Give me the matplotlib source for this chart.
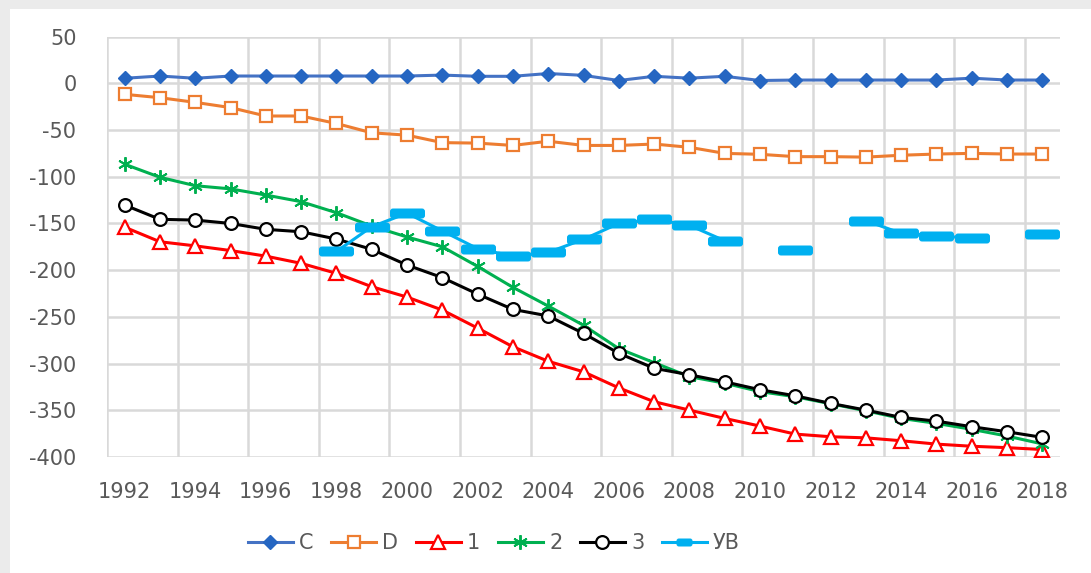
import numpy as np
import matplotlib
matplotlib.use("Agg")
import matplotlib.pyplot as plt
from matplotlib.path import Path
from matplotlib.lines import Line2D
from matplotlib.patches import Rectangle

plt.rcParams['font.family'] = ['DejaVu Sans']

years = list(range(1992, 2019))
nan = np.nan

series_c = [5.4, 7.8, 5.4, 7.8, 7.8, 7.8, 7.8, 7.8, 7.8, 8.8, 7.5, 7.5, 10.5, 8.5,
            3.0, 7.5, 5.5, 7.5, 3.0, 3.5, 3.5, 3.5, 3.5, 3.5, 5.5, 3.5, 3.5]
series_d = [-11.8, -15.4, -20.4, -26, -35, -35, -43, -53, -55.5, -63.5, -64, -66.5,
            -62, -66.5, -66.5, -65, -68.5, -75, -76, -78.5, -78.5, -79, -77, -75.7,
            -75, -75.7, -75.7]
series_1 = [-154, -169.6, -174, -179, -185, -192.7, -203.4, -217.7, -228.8, -242.7,
            -262, -282, -297.5, -308.8, -326, -340.8, -349.8, -358.7, -366.9, -375.5,
            -378.3, -379.5, -382.6, -386.2, -388.5, -390, -392]
series_2 = [-86.6, -100.6, -109.6, -113, -119.6, -126.7, -138.5, -152.8, -164.5, -175,
            -196, -218.4, -238.4, -259, -284, -299, -314, -321, -330, -335.5, -343,
            -350.5, -358.7, -364, -370.4, -377.6, -386]
series_3 = [-130.3, -145.6, -146.4, -150, -156.3, -158.9, -166.7, -177.7, -194.5, -208,
            -225.6, -242, -249, -267.7, -289, -305, -312, -319.5, -328, -334.5, -342.6,
            -349.8, -357.6, -361.6, -367.6, -373, -379]
series_uv = [nan, nan, nan, nan, nan, nan, -180, -153.5, -139, -158, -177, -185, -181,
             -167, -150, -145.6, -152, -168.5, nan, -178.5, nan, -147, -160.6, -163,
             -166, nan, -161.7]

labels = ['C', 'D', '1', '2', '3', 'УВ']
y_ticks = list(range(50, -401, -50))
x_ticklabels = [str(y) for y in years[::2]]

GRID = '#D9D9D9'
TEXT = '#595959'


def rounded_bar(w=3.5, h=1.0, r=0.3):
    x0, x1, y0, y1 = -w / 2, w / 2, -h / 2, h / 2
    verts = [(x0 + r, y0), (x1 - r, y0), (x1, y0), (x1, y0 + r), (x1, y1 - r),
             (x1, y1), (x1 - r, y1), (x0 + r, y1), (x0, y1), (x0, y1 - r),
             (x0, y0 + r), (x0, y0), (x0 + r, y0), (x0 + r, y0)]
    codes = [Path.MOVETO, Path.LINETO, Path.CURVE3, Path.CURVE3, Path.LINETO,
             Path.CURVE3, Path.CURVE3, Path.LINETO, Path.CURVE3, Path.CURVE3,
             Path.LINETO, Path.CURVE3, Path.CURVE3, Path.CLOSEPOLY]
    return Path(verts, codes)


bar_marker = rounded_bar()
legend_bar = rounded_bar(w=2.0, h=1.0, r=0.3)
px = 72 / 100  # points per pixel at 100 dpi

fig = plt.figure(figsize=(10.91, 5.73), dpi=100)
fig.patches.append(Rectangle((0, 0), 10 / 1091, 1, transform=fig.transFigure,
                             facecolor='#EBEBEB', edgecolor='none', zorder=-5))
fig.patches.append(Rectangle((0, 1 - 9 / 573), 1, 9 / 573, transform=fig.transFigure,
                             facecolor='#EBEBEB', edgecolor='none', zorder=-5))

ax = fig.add_axes([107 / 1091, 1 - 457 / 573, (1060 - 107) / 1091, (457 - 36.6) / 573])
x = np.arange(len(years))

styles = [
    dict(data=series_c, color='#4472C4', marker='D', ms=7.0, mfc='#2566C2', mec='#2566C2', mew=1),
    dict(data=series_d, color='#ED7D31', marker='s', ms=9.0, mfc='white', mec='#ED7D31', mew=1.6),
    dict(data=series_1, color='#FF0000', marker='^', ms=9.5, mfc='white', mec='#FF0000', mew=1.6),
    dict(data=series_2, color='#00B050', marker=(6, 2, 0), ms=10.5, mfc='#00B050', mec='#00B050', mew=1.4),
    dict(data=series_3, color='#000000', marker='o', ms=9.2, mfc='white', mec='#000000', mew=1.6),
    dict(data=series_uv, color='#00B0F0', marker=bar_marker, ms=35 * px, mfc='#00B0F0', mec='#00B0F0', mew=0),
]

handles = []
for i, (st, lab) in enumerate(zip(styles, labels)):
    ax.plot(x, st['data'], color=st['color'], lw=2.2, marker=st['marker'], ms=st['ms'],
            mfc=st['mfc'], mec=st['mec'], mew=st['mew'], zorder=3 + i)
    if lab == 'УВ':
        hm, hms = legend_bar, 16 * px
    else:
        hm, hms = st['marker'], st['ms']
    handles.append(Line2D([], [], color=st['color'], lw=2.2, marker=hm, ms=hms,
                          mfc=st['mfc'], mec=st['mec'], mew=st['mew']))

ax.set_xlim(-0.5, len(years) - 0.5)
ax.set_ylim(-400, 50)
ax.set_yticks(y_ticks)
ax.set_yticklabels([str(v) for v in y_ticks])
ax.set_xticks(x[::2])
ax.set_xticklabels(x_ticklabels)
ax.set_xticks(np.arange(-0.5, len(years) - 1, 2), minor=True)

ax.grid(False)
ax.yaxis.grid(True, which='major', color=GRID, lw=1.8, zorder=0)
ax.xaxis.grid(True, which='minor', color=GRID, lw=1.8, zorder=0)
ax.set_axisbelow(True)
for s in ax.spines.values():
    s.set_visible(False)
ax.tick_params(axis='both', which='both', length=0, labelsize=15, labelcolor=TEXT)
ax.tick_params(axis='y', pad=22)
ax.tick_params(axis='x', pad=18)

leg = fig.legend(handles, labels, loc='center', bbox_to_anchor=(494 / 1091, 1 - 543 / 573),
                 ncol=6, frameon=False, fontsize=15, handlelength=2.15, handletextpad=0.3,
                 columnspacing=0.85, labelcolor=TEXT)

fig.savefig('out.png', dpi=100, facecolor='white')
